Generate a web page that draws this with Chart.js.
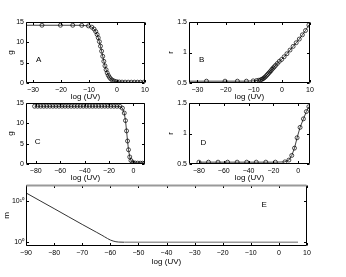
<!DOCTYPE html>
<html>
<head>
<meta charset="utf-8">
<script src="https://cdn.jsdelivr.net/npm/chart.js@4.4.1/dist/chart.umd.min.js"></script>
<style>
  body { margin: 0; background: #fff; }
  canvas { position: absolute; left: 0; top: 0; }
</style>
</head>
<body>
<canvas id="pA" width="346" height="277"></canvas>
<canvas id="pB" width="346" height="277"></canvas>
<canvas id="pC" width="346" height="277"></canvas>
<canvas id="pD" width="346" height="277"></canvas>
<canvas id="pE" width="346" height="277"></canvas>
<script>
// panels A / B : short log(UV) range
const abX = [-40, -26.8, -20.2, -15.8, -12.6, -10.2, -9.0, -8.2, -7.6, -7.1, -6.7, -6.3, -5.9, -5.5, -5.1, -4.7, -4.3, -3.9, -3.5, -3.1, -2.7, -2.2, -1.6, -0.9, -0.1, 0.8, 1.8, 2.9, 4.0, 5.1, 6.2, 7.3, 8.4, 9.6];
const aG = [14.2, 14.2, 14.2, 14.2, 14.18, 14.04, 13.73, 13.27, 12.65, 11.93, 11.13, 10.18, 9.06, 7.83, 6.57, 5.34, 4.22, 3.27, 2.48, 1.87, 1.41, 0.99, 0.67, 0.45, 0.32, 0.25, 0.22, 0.21, 0.2, 0.2, 0.2, 0.2, 0.2, 0.2];
const bR = [0.53, 0.53, 0.53, 0.53, 0.53, 0.535, 0.54, 0.545, 0.55, 0.56, 0.57, 0.585, 0.6, 0.62, 0.64, 0.66, 0.68, 0.70, 0.725, 0.745, 0.765, 0.79, 0.82, 0.855, 0.885, 0.93, 0.98, 1.04, 1.10, 1.16, 1.22, 1.29, 1.36, 1.45];

// panel C : wide range
const cX = [-81, -78.5, -76, -73.5, -71, -68.5, -66, -63.5, -61, -58.5, -56, -53.5, -51, -48.5, -46, -43.5, -41, -38.5, -36, -33.5, -31, -28.5, -26, -23.5, -21, -18.5, -16, -13.5, -11, -9, -7.5, -6.5, -5.6, -4.8, -4.0, -3.0, -2.0, -0.5, 1.4, 3.5, 5.6, 7.5, 9.2];
const cG = [14.2, 14.2, 14.2, 14.2, 14.2, 14.2, 14.2, 14.2, 14.2, 14.2, 14.2, 14.2, 14.2, 14.2, 14.2, 14.2, 14.2, 14.2, 14.2, 14.2, 14.2, 14.2, 14.2, 14.2, 14.2, 14.2, 14.2, 14.19, 14.16, 13.73, 12.53, 10.68, 8.14, 5.65, 3.5, 1.74, 0.86, 0.37, 0.24, 0.21, 0.2, 0.2, 0.2];

// panel D
const dX = [-80, -72.3, -64.6, -56.9, -49.2, -41.5, -33.8, -26.1, -18.4, -10.7, -7.5, -5.2, -3.0, -0.9, 1.5, 4.2, 6.6, 8.6];
const dR = [0.53, 0.53, 0.53, 0.53, 0.53, 0.53, 0.53, 0.53, 0.53, 0.535, 0.565, 0.64, 0.76, 0.93, 1.1, 1.24, 1.36, 1.44];

// panel E : m on a log axis
const eX = [-90, -85, -80, -75, -70, -65, -63, -62, -61, -60, -59, -58, -57, -55, -50, -40, -30, -20, -10, 0, 6.8];
const eM = [7.9e11, 1.0e10, 1.3e8, 1.6e6, 2.0e4, 280, 50, 20, 8, 3.5, 2.0, 1.35, 1.12, 1.02, 1, 1, 1, 1, 1, 1, 1];

// tick values
const abXTicks = [-30, -20, -10, 0, 10];
const cdXTicks = [-80, -60, -40, -20, 0];
const eXTicks = [-90, -80, -70, -60, -50, -40, -30, -20, -10, 0, 10];
const gTicks = [0, 5, 10, 15];
const rTicks = [0.5, 1, 1.5];
const mTicks = [1, 1e10];
const mTickLabels = ['10⁰', '10¹⁰'];

Chart.defaults.font.family = 'Liberation Sans';
Chart.defaults.font.size = 7;
Chart.defaults.color = '#000';

const pts = (xs, ys) => xs.map((x, i) => ({ x: x, y: ys[i] }));
const num = v => (v < 0 ? '\u2212' + (-v) : String(v));

// MATLAB style box with inward ticks + panel letter
const frame = {
  id: 'frame',
  afterDatasetsDraw(chart, args, opts) {
    const { ctx, chartArea: a, scales: { x, y } } = chart;
    const L = Math.round(a.left) + 0.5, R = Math.round(a.right) - 0.5;
    const T = Math.round(a.top) + 0.5, B = Math.round(a.bottom) - 0.5;
    const tl = 2.5;
    ctx.save();
    ctx.lineWidth = 1;
    ctx.strokeStyle = '#000';
    ctx.beginPath();
    x.ticks.forEach(t => {
      const p = Math.round(x.getPixelForValue(t.value)) + 0.5;
      ctx.moveTo(p, B); ctx.lineTo(p, B - tl);
      ctx.moveTo(p, T); ctx.lineTo(p, T + tl);
    });
    y.ticks.forEach(t => {
      const p = Math.round(y.getPixelForValue(t.value)) + 0.5;
      ctx.moveTo(L, p); ctx.lineTo(L + tl, p);
      ctx.moveTo(R, p); ctx.lineTo(R - tl, p);
    });
    ctx.moveTo(L, T); ctx.lineTo(L, B); ctx.lineTo(R, B); ctx.lineTo(R, T);
    ctx.stroke();
    ctx.beginPath();
    ctx.strokeStyle = opts.topColor || '#000';
    ctx.lineWidth = opts.topWidth || 1;
    ctx.moveTo(L, T); ctx.lineTo(R, T);
    ctx.stroke();

    ctx.font = '8px "Liberation Sans"';
    ctx.fillStyle = '#000';
    ctx.textAlign = 'center';
    ctx.textBaseline = 'middle';
    ctx.fillText(opts.letter, x.getPixelForValue(opts.at[0]), y.getPixelForValue(opts.at[1]));
    ctx.restore();
  }
};

function makePanel(id, box, o) {
  new Chart(document.getElementById(id), {
    type: 'line',
    data: { datasets: o.datasets },
    options: {
      responsive: false,
      animation: false,
      events: [],
      layout: { padding: { left: box.l - 24, top: box.t, right: 346 - box.r, bottom: 277 - box.b - o.xh } },
      plugins: {
        legend: { display: false },
        tooltip: { enabled: false },
        frame: { letter: o.letter, at: o.at, topColor: o.topColor, topWidth: o.topWidth }
      },
      scales: {
        x: {
          type: 'linear',
          min: o.xmin, max: o.xmax,
          grid: { display: false, drawTicks: false },
          border: { display: false },
          ticks: { padding: 3, callback: num, maxRotation: 0 },
          afterBuildTicks: s => { s.ticks = o.xTicks.map(v => ({ value: v })); },
          afterFit: s => { s.height = o.xh; },
          title: { display: true, text: 'log (UV)', font: { size: 8 }, padding: 0 }
        },
        y: {
          type: o.ytype || 'linear',
          min: o.ymin, max: o.ymax,
          grid: { display: false, drawTicks: false },
          border: { display: false },
          ticks: { padding: 2, callback: o.yfmt || num },
          afterBuildTicks: s => { s.ticks = o.yTicks.map(v => ({ value: v })); },
          afterFit: s => { s.width = 24; },
          title: { display: true, text: o.ylabel, font: { size: 8 }, padding: { top: o.ytp, bottom: 0 } }
        }
      }
    },
    plugins: [frame]
  });
}

const circles = {
  borderColor: '#111',
  borderWidth: 0.8,
  pointRadius: 2,
  pointBorderWidth: 0.7,
  pointBorderColor: '#000',
  pointBackgroundColor: 'rgba(0,0,0,0)',
  tension: 0
};

makePanel('pA', { l: 26, r: 145, t: 22, b: 83 }, {
  datasets: [Object.assign({ data: pts(abX, aG) }, circles)],
  xmin: -32.5, xmax: 10, xTicks: abXTicks, xh: 19,
  ymin: 0, ymax: 15, yTicks: gTicks, ylabel: 'g', ytp: 4,
  letter: 'A', at: [-28, 5.6]
});

makePanel('pB', { l: 189, r: 310, t: 22, b: 83 }, {
  datasets: [Object.assign({ data: pts(abX, bR) }, circles)],
  xmin: -33, xmax: 10, xTicks: abXTicks, xh: 19,
  ymin: 0.5, ymax: 1.5, yTicks: rTicks, ylabel: 'r', ytp: 1,
  letter: 'B', at: [-28.5, 0.88]
});

makePanel('pC', { l: 26, r: 145, t: 103, b: 164 }, {
  datasets: [Object.assign({ data: pts(cX, cG) }, circles)],
  xmin: -88, xmax: 9.5, xTicks: cdXTicks, xh: 19,
  ymin: 0, ymax: 15, yTicks: gTicks, ylabel: 'g', ytp: 4,
  letter: 'C', at: [-78.5, 5.5]
});

makePanel('pD', { l: 189, r: 310, t: 103, b: 164 }, {
  datasets: [Object.assign({ data: pts(dX, dR) }, circles)],
  xmin: -88, xmax: 9.5, xTicks: cdXTicks, xh: 19,
  ymin: 0.5, ymax: 1.5, yTicks: rTicks, ylabel: 'r', ytp: 1,
  letter: 'D', at: [-76.5, 0.84]
});

makePanel('pE', { l: 26, r: 307, t: 185, b: 246 }, {
  datasets: [{
    data: pts(eX, eM),
    borderColor: '#333',
    borderWidth: 1,
    pointRadius: 0,
    tension: 0,
    segment: {
      borderColor: c => (c.p0.parsed.y < 1.05 && c.p1.parsed.y < 1.05 ? '#999' : undefined),
      borderWidth: c => (c.p0.parsed.y < 1.05 && c.p1.parsed.y < 1.05 ? 1.6 : undefined)
    }
  }],
  xmin: -90, xmax: 10, xTicks: eXTicks, xh: 21,
  ytype: 'logarithmic', ymin: 0.126, ymax: 6.3e13, yTicks: mTicks,
  yfmt: v => mTickLabels[mTicks.indexOf(v)], ylabel: 'm', ytp: 0,
  letter: 'E', at: [-5.2, 9e8], topColor: '#999', topWidth: 2
});
</script>
</body>
</html>
